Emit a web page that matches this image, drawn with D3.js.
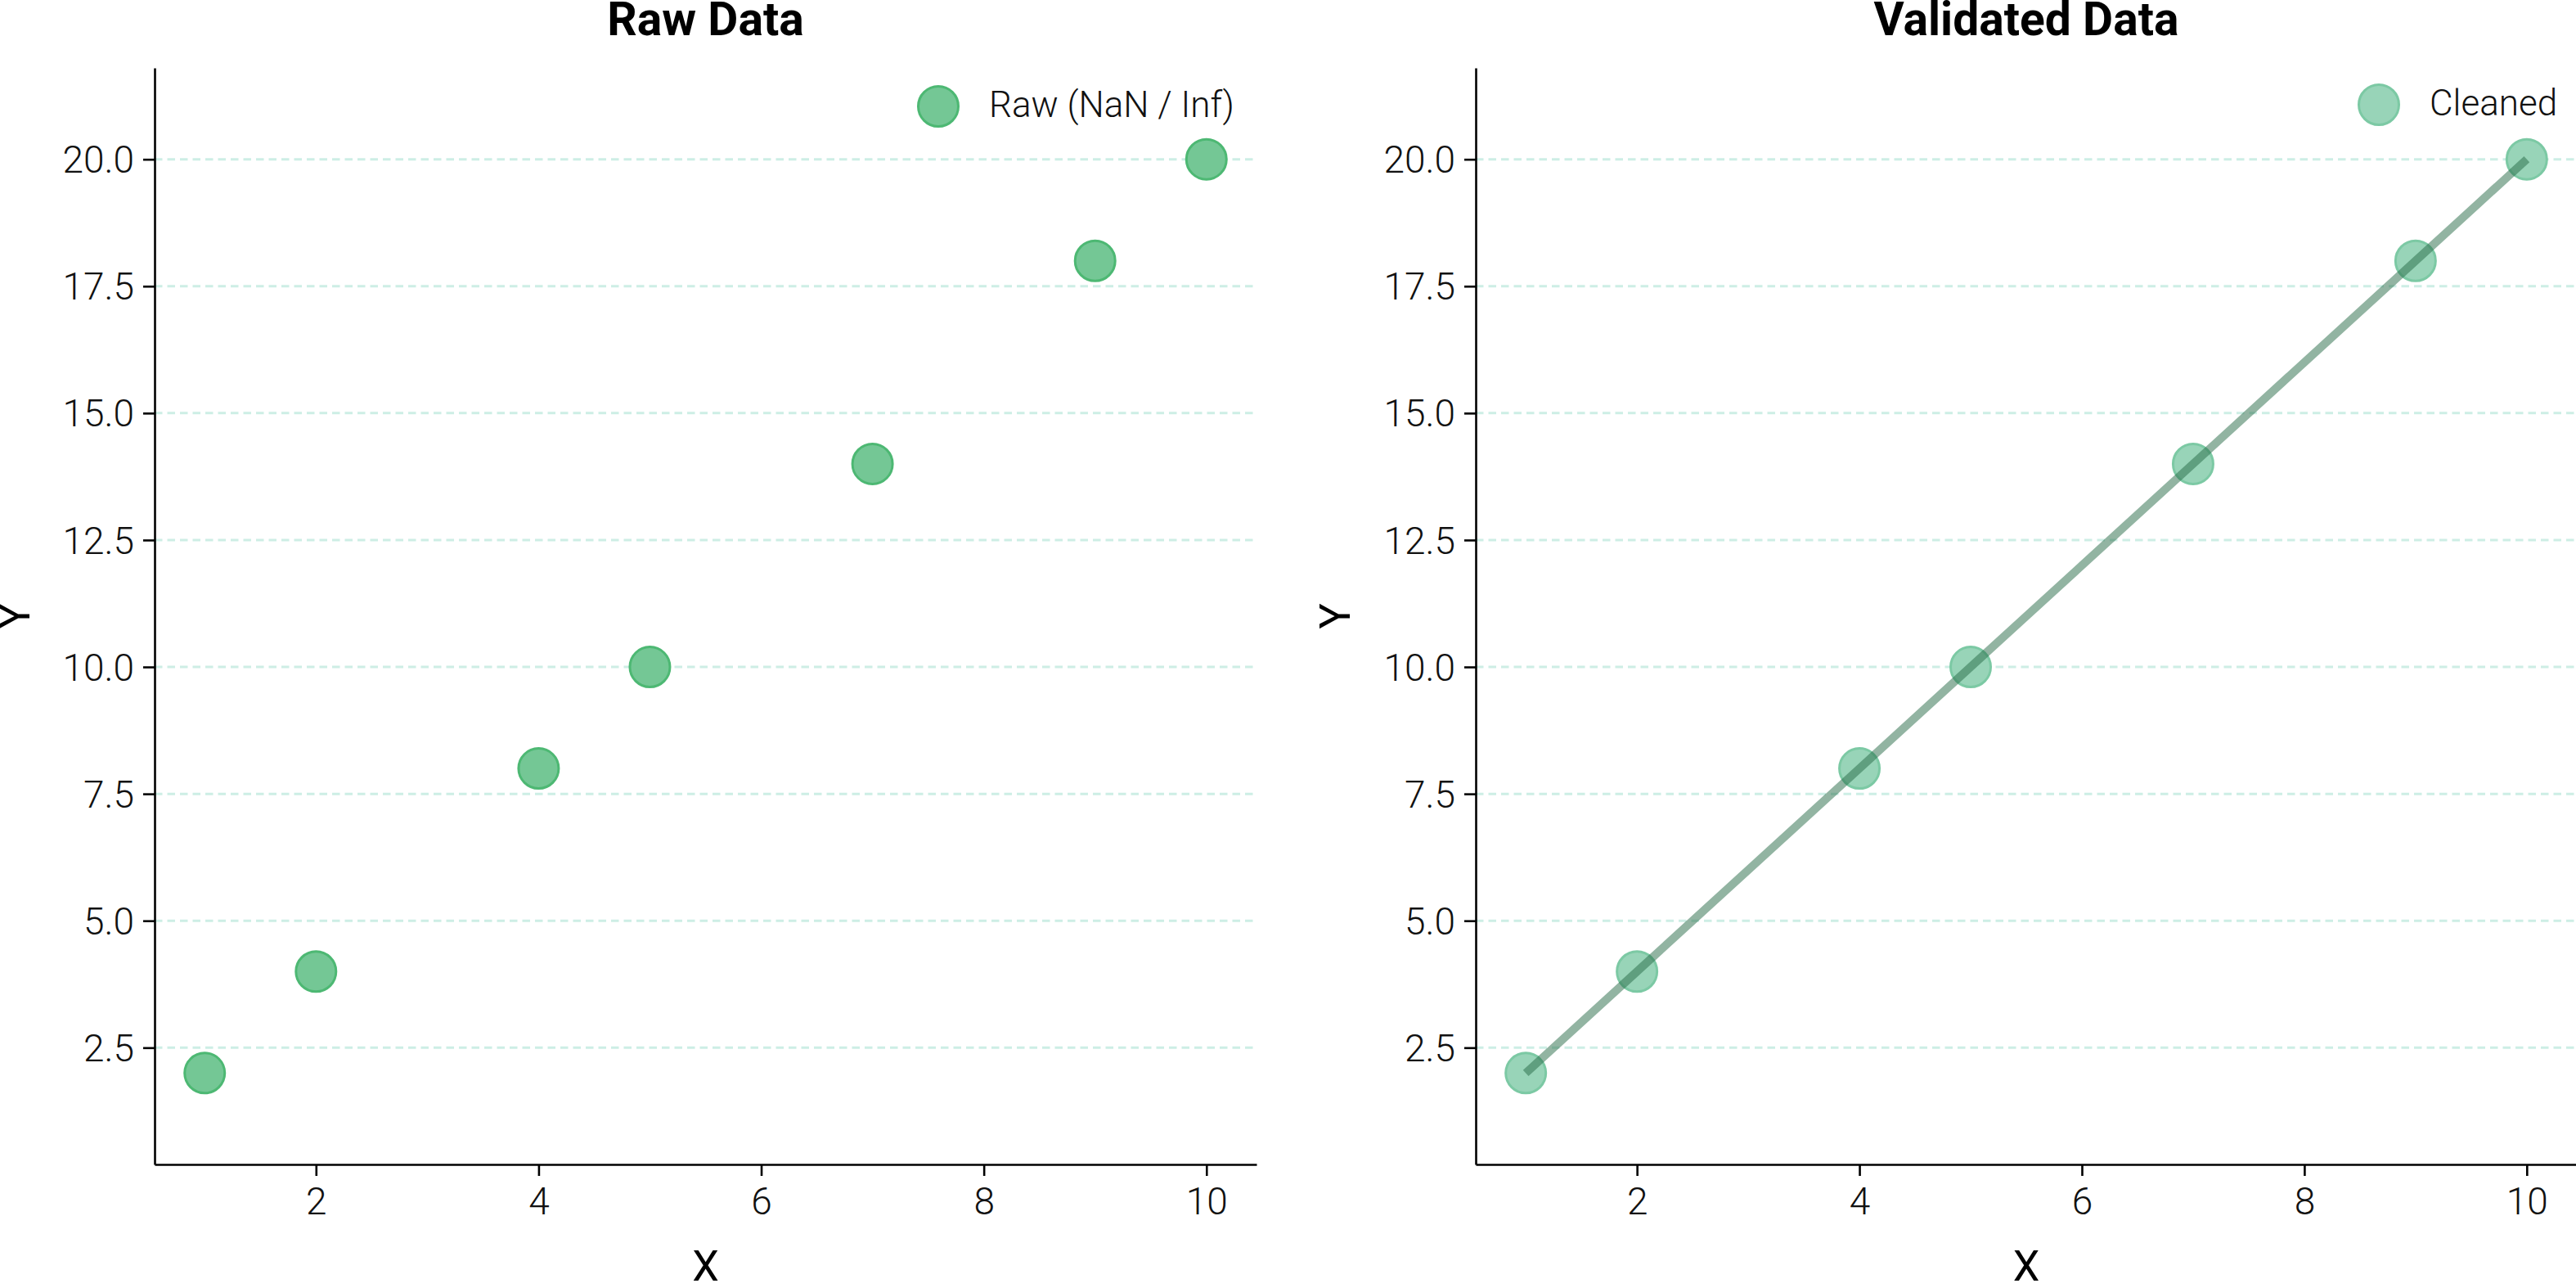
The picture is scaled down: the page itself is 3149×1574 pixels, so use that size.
<!DOCTYPE html>
<html>
<head>
<meta charset="utf-8">
<script src="https://cdn.jsdelivr.net/npm/d3@7"></script>
<style>
  html, body { margin: 0; padding: 0; background: #ffffff; }
  svg { display: block; font-family: Roboto, "Noto Sans", sans-serif; }
</style>
</head>
<body>
<svg id="chart" width="3149" height="1574"></svg>
<script>
// ---- data ----
const xValues = [1, 2, 4, 5, 7, 9, 10];
const rawY = [2, 4, 8, 10, 14, 18, 20];
const cleanedY = [2, 4, 8, 10, 14, 18, 20];
const xTicks = [2, 4, 6, 8, 10];
const yTicks = [2.5, 5.0, 7.5, 10.0, 12.5, 15.0, 17.5, 20.0];
const panelTitles = ["Raw Data", "Validated Data"];
const legendLabels = ["Raw (NaN / Inf)", "Cleaned"];
const xDomain = [0.55, 10.45];
const yDomain = [0.2, 21.8];

(function () {
const svg = d3.select("#chart");

const panels = [
  { left: 189, right: 1536, title: panelTitles[0], ys: rawY, label: legendLabels[0],
    fill: "rgb(116,199,149)", stroke: "rgb(77,184,115)", line: false,
    legendX: 1147, legendY: 130, ylabelX: 18 },
  { left: 1804, right: 3150, title: panelTitles[1], ys: cleanedY, label: legendLabels[1],
    fill: "rgb(152,212,184)", stroke: "rgb(124,201,164)", line: true,
    legendX: 2908, legendY: 128, ylabelX: 1632 }
];
const plotTop = 83, plotBottom = 1423;

panels.forEach(p => {
  const g = svg.append("g");
  const x = d3.scaleLinear().domain(xDomain).range([p.left, p.right]);
  const y = d3.scaleLinear().domain(yDomain).range([plotBottom, plotTop]);

  // grid
  g.append("g").selectAll("line").data(yTicks).join("line")
    .attr("x1", p.left).attr("x2", p.right)
    .attr("y1", d => y(d)).attr("y2", d => y(d))
    .attr("stroke", "#cdeee5").attr("stroke-width", 3)
    .attr("stroke-dasharray", "9.5,6");

  // axes
  const xa = g.append("g").attr("transform", `translate(0,${plotBottom})`)
    .call(d3.axisBottom(x).tickValues(xTicks).tickFormat(d3.format("d"))
      .tickSize(14).tickSizeOuter(0).tickPadding(14));
  const ya = g.append("g").attr("transform", `translate(${p.left},0)`)
    .call(d3.axisLeft(y).tickValues(yTicks).tickFormat(d3.format(".1f"))
      .tickSize(14).tickSizeOuter(0).tickPadding(11));
  [xa, ya].forEach(a => {
    a.select(".domain").attr("stroke", "#000").attr("stroke-width", 2.6);
    a.selectAll(".tick line").attr("stroke", "#000").attr("stroke-width", 2.6);
    a.selectAll(".tick text").attr("fill", "#111").attr("font-size", 46)
      .attr("font-weight", 300).attr("font-family", "Roboto, sans-serif");
  });
  ya.selectAll(".tick text").attr("dy", "0.35em");

  // markers
  const pts = xValues.map((xv, i) => ({ x: xv, y: p.ys[i] }));
  g.append("g").selectAll("circle").data(pts).join("circle")
    .attr("cx", d => x(d.x)).attr("cy", d => y(d.y)).attr("r", 24.5)
    .attr("fill", p.fill).attr("stroke", p.stroke).attr("stroke-width", 3);

  if (p.line) {
    const lineGen = d3.line().x(d => x(d.x)).y(d => y(d.y));
    g.append("path").datum(pts).attr("d", lineGen)
      .attr("fill", "none").attr("stroke", "rgb(37,105,69)").attr("stroke-opacity", 0.5)
      .attr("stroke-width", 10).attr("stroke-linecap", "butt");
  }

  // title
  g.append("text").attr("x", (p.left + p.right) / 2).attr("y", 43)
    .attr("text-anchor", "middle").attr("font-size", 57).attr("font-weight", 700)
    .attr("fill", "#000").text(p.title);

  // axis labels
  g.append("text").attr("x", (p.left + p.right) / 2).attr("y", 1565)
    .attr("text-anchor", "middle").attr("font-size", 52).attr("font-weight", 400)
    .attr("fill", "#000").text("X");
  g.append("text").attr("transform", `translate(${p.ylabelX},${(plotTop + plotBottom) / 2}) rotate(-90)`)
    .attr("text-anchor", "middle").attr("dy", "0.35em").attr("font-size", 52)
    .attr("font-weight", 400).attr("fill", "#000").text("Y");

  // legend
  g.append("circle").attr("cx", p.legendX).attr("cy", p.legendY).attr("r", 24.5)
    .attr("fill", p.fill).attr("stroke", p.stroke).attr("stroke-width", 3);
  g.append("text").attr("x", p.legendX + 62).attr("y", p.legendY + 13)
    .attr("font-size", 44).attr("font-weight", 300).attr("fill", "#111").text(p.label);
});
})();
</script>
</body>
</html>
